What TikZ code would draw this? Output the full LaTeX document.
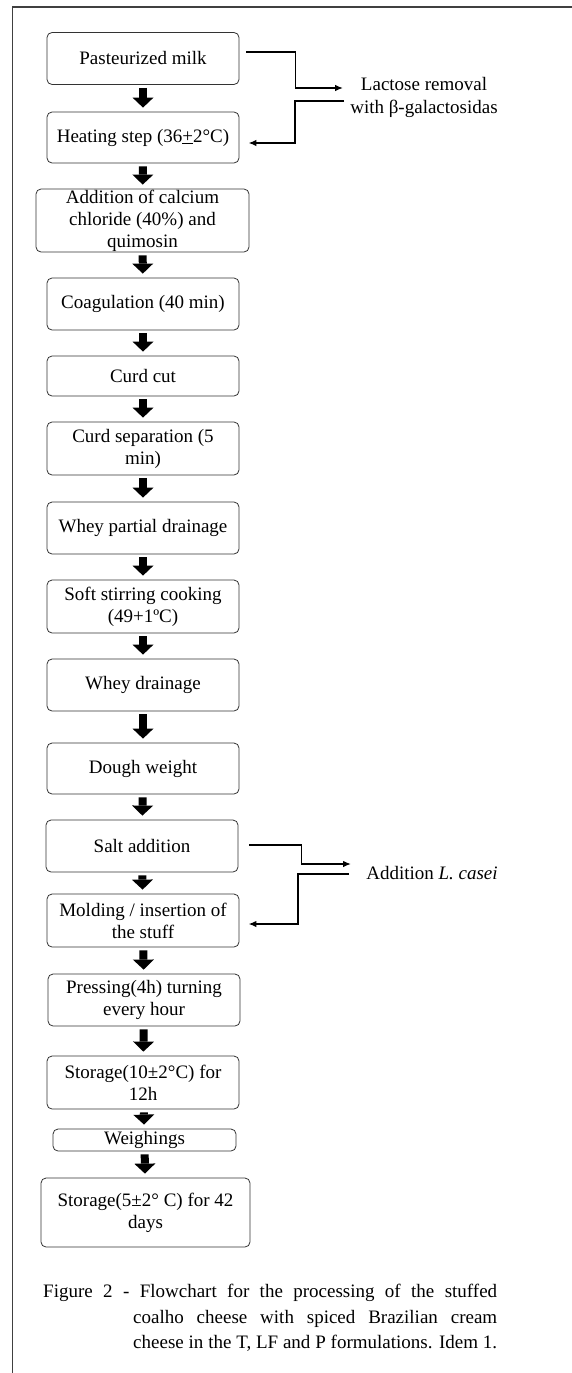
\documentclass[tikz,border=0pt]{standalone}
\usepackage{fontspec}
\setmainfont{Liberation Serif}
\usetikzlibrary{arrows.meta,calc}

\tikzset{
  box/.style={draw=black!80, line width=0.8pt, rounded corners=5pt, align=center,
    inner sep=0pt, minimum width=192pt, minimum height=52pt,
    font=\fontsize{19}{22}\selectfont},
  flow/.style={line width=8pt, -{Triangle[width=21pt,length=10pt,line width=0pt]},
    shorten <=3pt, shorten >=4pt},
  sidearrow/.style={line width=1.6pt, -{Latex[length=8pt,width=6.5pt]}},
  note/.style={align=center, inner sep=0pt, font=\fontsize{19}{23}\selectfont}
}

\begin{document}
\begin{tikzpicture}[x=1pt,y=1pt]
	\useasboundingbox (0,0) rectangle (572,-1373);
	% frame
	\draw[line width=1.5pt, black!75] (572,-7) -- (12.5,-7) -- (12.5,-1373);

	% process steps
	\node[box] (milk) at (143,-58.5) {Pasteurized milk};
	\node[box, minimum height=51pt] (heat) at (143,-137.5) {Heating step (36\underline{+}2°C)};
	\node[box, minimum width=213pt, minimum height=63pt] (calc) at (142.5,-220.5)
		{Addition of calcium\\chloride (40\%) and\\quimosin};
	\node[box] (coag) at (143,-304) {Coagulation (40 min)};
	\node[box, minimum height=40pt] (cut) at (143,-376) {Curd cut};
	\node[box, minimum height=53pt] (sep) at (143,-448.5) {Curd separation (5\\min)};
	\node[box] (partial) at (143,-528) {Whey partial drainage};
	\node[box, minimum height=53pt] (stir) at (143,-606.5) {Soft stirring cooking\\(49+1ºC)};
	\node[box] (drain) at (143,-685) {Whey drainage};
	\node[box, minimum height=51pt] (dough) at (143,-768.5) {Dough weight};
	\node[box] (salt) at (142,-846) {Salt addition};
	\node[box, minimum height=53pt] (mold) at (143,-920.5) {Molding / insertion of\\the stuff};
	\node[box] (press) at (144,-1000) {Pressing(4h) turning\\every hour};
	\node[box, minimum height=53pt] (store) at (143,-1082.5) {Storage(10±2°C) for\\12h};
	\node[box, minimum width=183pt, minimum height=22pt] (weigh) at (144.5,-1140) {Weighings};
	\node[box, minimum width=209pt, minimum height=69pt] (final) at (145.5,-1212.5)
		{Storage(5±2° C) for 42\\days};

	% side treatments
	\node[note] (lactose) at (424,-97) {Lactose removal\\with β-galactosidas};
	\node[note] (casei) at (432,-873) {Addition \textit{L. casei}};

	% main flow
	\draw[flow] (milk) -- (heat);
	\draw[flow] (heat) -- (calc);
	\draw[flow] (calc) -- (coag);
	\draw[flow] (coag) -- (cut);
	\draw[flow] (cut) -- (sep);
	\draw[flow] (sep) -- (partial);
	\draw[flow] (partial) -- (stir);
	\draw[flow] (stir) -- (drain);
	\draw[flow] (drain) -- (dough);
	\draw[flow] (dough) -- (salt);
	\draw[flow] (salt) -- (mold);
	\draw[flow] (mold) -- (press);
	\draw[flow] (press) -- (store);
	\draw[flow] (store) -- (weigh);
	\draw[flow] (weigh) -- (final);

	% out and back
	\draw[sidearrow] ([xshift=7pt,yshift=6.5pt]milk.east) -- ++(49,0)
		|- ([xshift=-7pt,yshift=9pt]lactose.west);
	\draw[sidearrow] ([xshift=-6pt,yshift=-4pt]lactose.west) -- ++(-49,0)
		|- ([xshift=9pt,yshift=-5.5pt]heat.east);
	\draw[sidearrow] ([xshift=11pt,yshift=1pt]salt.east) -- ++(52,0)
		|- ([xshift=-15pt,yshift=9pt]casei.west);
	\draw[sidearrow] ([xshift=-17pt,yshift=-1pt]casei.west) -- ++(-51,0)
		|- ([xshift=9pt,yshift=-3.5pt]mold.east);

	% caption
	\node[anchor=north west, inner sep=0pt, font=\fontsize{19}{25.5}\selectfont]
		(caption) at (43,-1284)
		{\parbox[t]{454pt}{\hangindent=90pt\hangafter=1\parfillskip=0pt\relax
		Figure 2 - Flowchart for the processing of the stuffed\linebreak
		coalho cheese with spiced Brazilian cream\linebreak
		cheese in the T, LF and P formulations. Idem 1.\par}};
\end{tikzpicture}
\end{document}
